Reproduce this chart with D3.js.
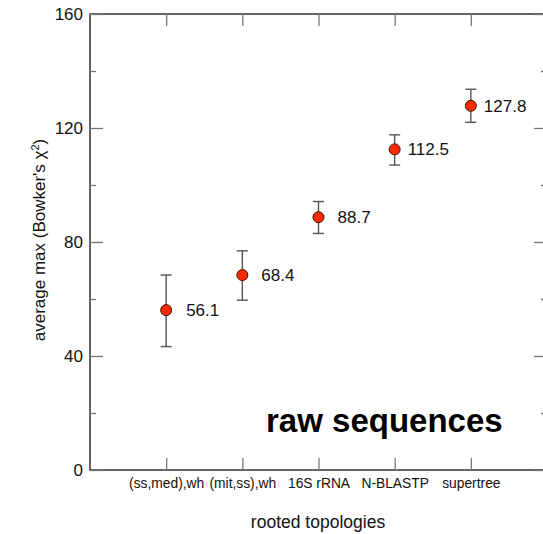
<!DOCTYPE html>
<html>
<head>
<meta charset="utf-8">
<script src="https://cdn.jsdelivr.net/npm/d3@7"></script>
<style>
  body { margin: 0; background: #fff; }
  svg { display: block; font-family: "Liberation Sans", Arial, Helvetica, sans-serif; }
</style>
</head>
<body>
<svg width="543" height="534"></svg>
<script>
// rooted topologies, avg max Bowker's chi^2 with error bars
var categories = ["(ss,med),wh", "(mit,ss),wh", "16S rRNA", "N-BLASTP", "supertree"];
var means = [56.1, 68.4, 88.7, 112.5, 127.8];
var upper = [68.4, 76.9, 94.2, 117.6, 133.6];
var lower = [43.3, 59.6, 83.0, 107.0, 122.0];
var yTicks = [0, 40, 80, 120, 160];
var yMinor = [20, 60, 100, 140];

var labelDx = [20, 19, 19, 13, 13];

var svg = d3.select("svg");

var x = d3.scaleLinear().domain([0, 6]).range([90, 547]),
    y = d3.scaleLinear().domain([0, 160]).range([470, 14]);

var data = categories.map(function(c, i) {
  return { i: i + 1, name: c, v: means[i], hi: upper[i], lo: lower[i], dx: labelDx[i] };
});

// frame
svg.append("rect")
    .attr("x", x(0)).attr("y", y(160))
    .attr("width", x(6) - x(0)).attr("height", y(0) - y(160))
    .attr("fill", "none").attr("stroke", "#333").attr("stroke-width", 1.5);

function styleAxis(g) {
  g.select(".domain").remove();
  g.selectAll(".tick line").attr("stroke", "#777").attr("stroke-width", 1.3);
  g.selectAll(".tick text").attr("fill", "#111");
}

// left axis, ticks pointing in
svg.append("g")
    .attr("transform", "translate(" + x(0) + ",0)")
    .call(d3.axisLeft(y).tickValues(yTicks).tickSize(-13).tickPadding(7))
    .call(styleAxis)
    .attr("font-size", 17).attr("font-family", null);

svg.append("g")
    .attr("transform", "translate(" + x(0) + ",0)")
    .call(d3.axisLeft(y).tickValues(yMinor).tickSize(-6).tickFormat(""))
    .call(styleAxis);

// right axis
svg.append("g")
    .attr("transform", "translate(" + x(6) + ",0)")
    .call(d3.axisRight(y).tickValues(yTicks).tickSize(-13).tickFormat(""))
    .call(styleAxis);
svg.append("g")
    .attr("transform", "translate(" + x(6) + ",0)")
    .call(d3.axisRight(y).tickValues(yMinor).tickSize(-6).tickFormat(""))
    .call(styleAxis);

// bottom axis
svg.append("g")
    .attr("transform", "translate(0," + y(0) + ")")
    .call(d3.axisBottom(x).tickValues([1, 2, 3, 4, 5])
        .tickFormat(function(d) { return categories[d - 1]; })
        .tickSize(-12).tickPadding(8))
    .call(styleAxis)
    .attr("font-size", 13.8).attr("font-family", null);

// top axis
svg.append("g")
    .attr("transform", "translate(0," + y(160) + ")")
    .call(d3.axisTop(x).tickValues([1, 2, 3, 4, 5]).tickSize(-12).tickFormat(""))
    .call(styleAxis);

// error bars
var eb = svg.append("g").attr("stroke", "#555").attr("stroke-width", 1.4);
eb.selectAll("line.v").data(data).enter().append("line")
    .attr("x1", function(d) { return x(d.i); })
    .attr("x2", function(d) { return x(d.i); })
    .attr("y1", function(d) { return y(d.lo); })
    .attr("y2", function(d) { return y(d.hi); });
eb.selectAll("line.hi").data(data).enter().append("line")
    .attr("x1", function(d) { return x(d.i) - 5.5; })
    .attr("x2", function(d) { return x(d.i) + 5.5; })
    .attr("y1", function(d) { return y(d.hi); })
    .attr("y2", function(d) { return y(d.hi); });
eb.selectAll("line.lo").data(data).enter().append("line")
    .attr("x1", function(d) { return x(d.i) - 5.5; })
    .attr("x2", function(d) { return x(d.i) + 5.5; })
    .attr("y1", function(d) { return y(d.lo); })
    .attr("y2", function(d) { return y(d.lo); });

// points
svg.append("g").selectAll("circle").data(data).enter().append("circle")
    .attr("cx", function(d) { return x(d.i); })
    .attr("cy", function(d) { return y(d.v); })
    .attr("r", 5.5)
    .attr("fill", "#ff2a00")
    .attr("stroke", "#3a1200")
    .attr("stroke-width", 1);

// value labels
svg.append("g").selectAll("text").data(data).enter().append("text")
    .attr("x", function(d) { return x(d.i) + d.dx; })
    .attr("y", function(d) { return y(d.v); })
    .attr("dy", "0.35em")
    .attr("font-size", 17)
    .attr("fill", "#111")
    .text(function(d) { return d.v.toFixed(1); });

// axis titles
svg.append("text")
    .attr("x", 318).attr("y", 528)
    .attr("text-anchor", "middle")
    .attr("font-size", 17.5)
    .attr("fill", "#111")
    .text("rooted topologies");

var yt = svg.append("text")
    .attr("transform", "translate(45,240) rotate(-90)")
    .attr("text-anchor", "middle")
    .attr("font-size", 17)
    .attr("fill", "#111");
yt.append("tspan").text("average max (Bowker's \u03c7");
yt.append("tspan").attr("dy", -6).attr("font-size", 11).text("2");
yt.append("tspan").attr("dy", 6).text(")");

svg.append("text")
    .attr("x", 266).attr("y", 432)
    .attr("font-size", 33)
    .attr("font-weight", "bold")
    .attr("fill", "#000")
    .text("raw sequences");
</script>
</body>
</html>
